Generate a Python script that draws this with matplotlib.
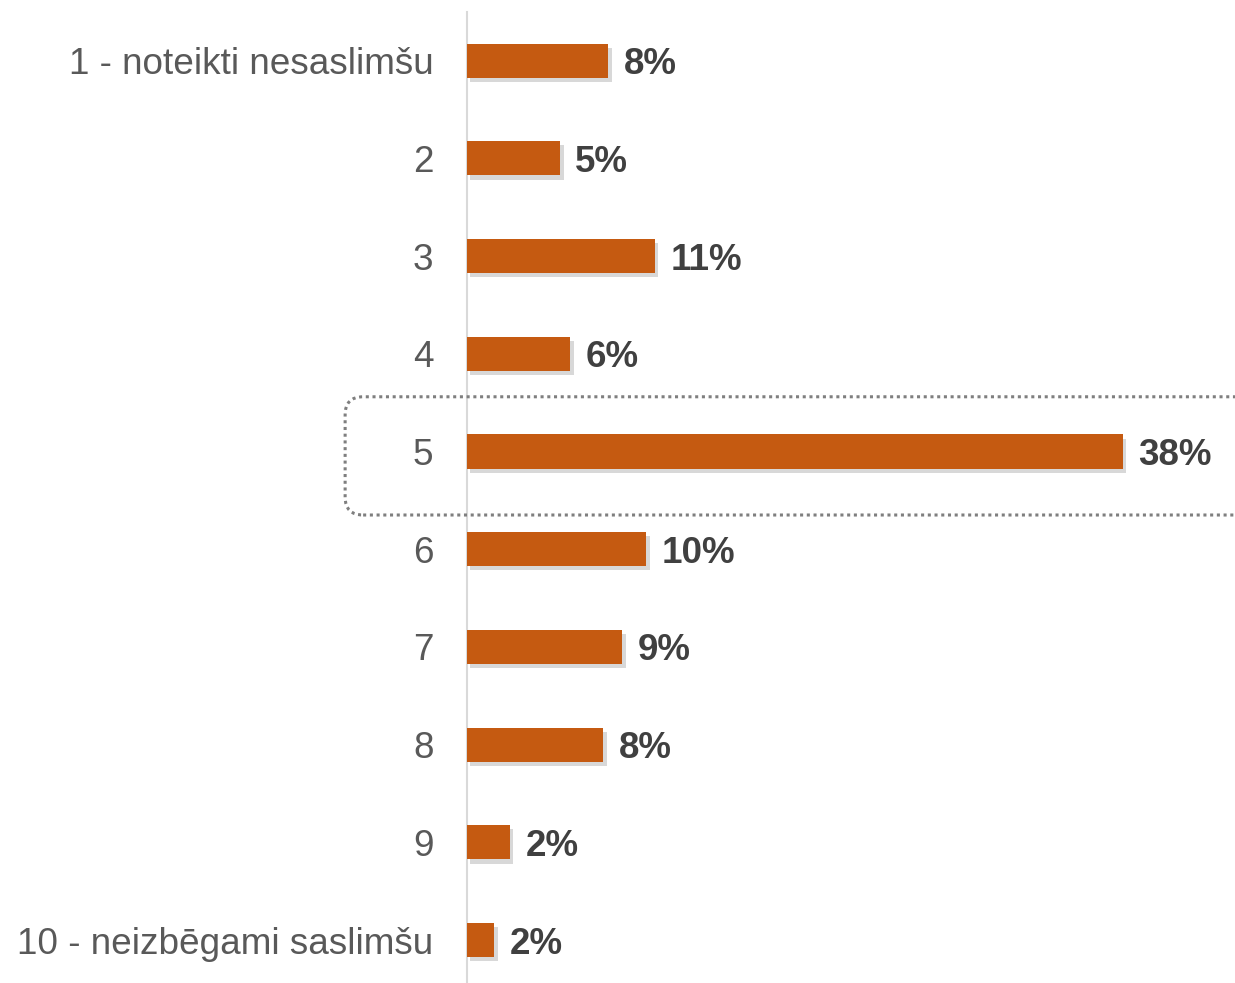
import matplotlib
matplotlib.use("Agg")
import matplotlib.pyplot as plt
import matplotlib.patheffects as pe
from matplotlib.patches import FancyBboxPatch

# DATA
categories = ["1 - noteikti nesaslimšu", "2", "3", "4", "5", "6", "7", "8", "9",
              "10 - neizbēgami saslimšu"]
values = [8.2, 5.4, 10.9, 6.0, 38.0, 10.4, 9.0, 7.9, 2.5, 1.6]
value_labels = ["8%", "5%", "11%", "6%", "38%", "10%", "9%", "8%", "2%", "2%"]
highlight = 4

plt.rcParams["font.family"] = ["Liberation Sans", "DejaVu Sans"]

fig = plt.figure(figsize=(12.35, 9.83), dpi=100)
ax = fig.add_axes([0.378, -0.006, 0.622, 0.994])

ypos = list(range(len(categories)))
bars = ax.barh(ypos, values, height=0.35, color="#C55A11", zorder=3)
for b in bars:
    b.set_path_effects([
        pe.SimplePatchShadow(offset=(2.5, -3), shadow_rgbFace="#808080", alpha=0.3),
        pe.Normal(),
    ])

for y, v, lab in zip(ypos, values, value_labels):
    ax.annotate(lab, (v, y), xytext=(11, 0), textcoords="offset points",
                va="center_baseline", ha="left", fontsize=26.5, fontweight="bold",
                color="#404040")

ax.set_ylim(len(categories) - 0.5, -0.5)
ax.set_xlim(0, 44.5)
ax.set_yticks(ypos)
ax.set_yticklabels(categories, fontsize=26.6, color="#595959")
ax.tick_params(axis="y", length=0, pad=24)
ax.set_xticks([])
for s in ["top", "right", "bottom"]:
    ax.spines[s].set_visible(False)
ax.spines["left"].set_color("#D9D9D9")
ax.spines["left"].set_linewidth(1.5)

# dotted highlight box around category 5 (drawn in display pixels)
x0, y0 = ax.transData.transform((-7.05, highlight + 0.65))
x1, y1 = ax.transData.transform((60, highlight - 0.56))
box = FancyBboxPatch((x0, y0), x1 - x0, y1 - y0,
                     boxstyle="round,pad=0,rounding_size=18",
                     transform=None, fill=False, edgecolor="#7F7F7F",
                     linestyle=(0, (1, 1.2)), linewidth=2.2, zorder=2)
fig.add_artist(box)

fig.savefig("out.png", dpi=100)
